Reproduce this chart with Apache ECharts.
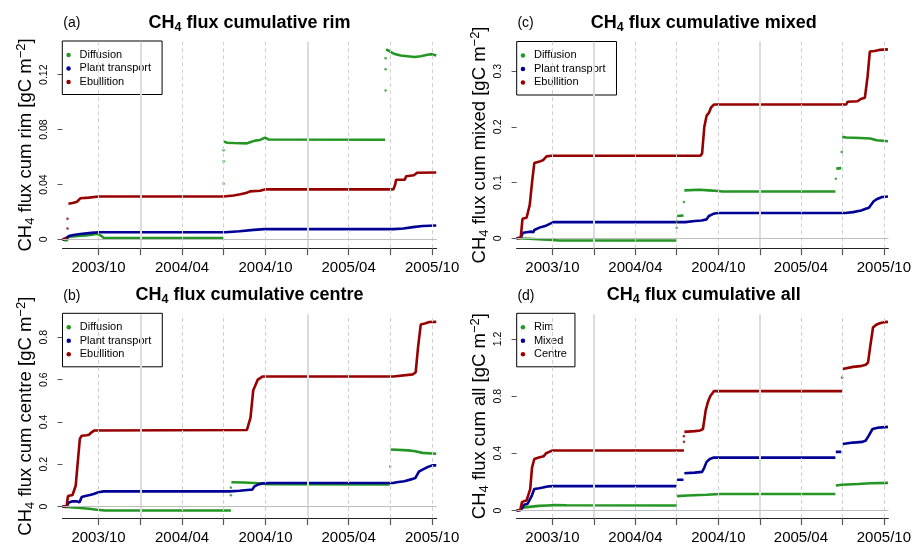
<!DOCTYPE html>
<html>
<head>
<meta charset="utf-8">
<script src="https://cdn.jsdelivr.net/npm/echarts@6/dist/echarts.min.js"></script>
<style>
html, body { margin: 0; padding: 0; background: #fff; }
#main { width: 914px; height: 545px; }
</style>
</head>
<body>
<div id="main"></div>
<script>
// ticks and labels on the time axis
var quarterTicks = ['2003-10-01', '2004-01-01', '2004-04-01', '2004-07-01', '2004-10-01',
                    '2005-01-01', '2005-04-01', '2005-07-01', '2005-10-01'];
var labelTicks = ['2003-10-01', '2004-04-01', '2004-10-01', '2005-04-01', '2005-10-01'];
var yearLines = ['2004-01-01', '2005-01-01'];
var xStart = '2003-07-14', xEnd = '2005-10-11';

var rimTicks = [0, 0.04, 0.08, 0.12];
var centreTicks = [0, 0.2, 0.4, 0.6, 0.8];
var mixedTicks = [0, 0.1, 0.2, 0.3];
var allTicks = [0, 0.4, 0.8, 1.2];

// (a) rim -- each series is a list of segments, dots are the loose points at the jumps
var rimDiffusion = [
  [['2003-07-14', 0], ['2003-07-23', -0.0008], ['2003-07-28', 0.002], ['2003-08-07', 0.0022], ['2003-08-22', 0.0028],
   ['2003-09-06', 0.003], ['2003-09-17', 0.0035], ['2003-09-28', 0.0042], ['2003-10-05', 0.003], ['2003-10-12', 0.0012],
   ['2004-07-01', 0.001]],
  [['2004-07-02', 0.0714], ['2004-07-08', 0.0705], ['2004-07-23', 0.0703], ['2004-08-21', 0.070], ['2004-08-28', 0.0708],
   ['2004-09-08', 0.072], ['2004-09-19', 0.0725], ['2004-09-30', 0.0742], ['2004-10-08', 0.0728], ['2005-06-20', 0.0726]],
  [['2005-06-22', 0.1385], ['2005-06-28', 0.1375], ['2005-07-09', 0.1353], ['2005-07-24', 0.134], ['2005-08-23', 0.1329],
   ['2005-09-06', 0.1335], ['2005-09-21', 0.1345], ['2005-09-30', 0.135], ['2005-10-10', 0.134]]
];
var rimDiffusionDots = [['2004-07-01', 0.0405], ['2004-07-01', 0.057], ['2004-07-01', 0.065],
                        ['2005-06-21', 0.1085], ['2005-06-21', 0.124], ['2005-06-21', 0.132]];
var rimPlant = [
  [['2003-07-14', 0], ['2003-07-20', 0.0005], ['2003-07-28', 0.0025], ['2003-08-07', 0.0033], ['2003-08-22', 0.004],
   ['2003-09-15', 0.0048], ['2003-10-01', 0.0053], ['2004-07-05', 0.0053], ['2004-08-05', 0.006], ['2004-09-05', 0.007],
   ['2004-09-28', 0.0075], ['2005-07-08', 0.0075], ['2005-07-30', 0.008], ['2005-08-20', 0.009], ['2005-09-10', 0.0098],
   ['2005-10-10', 0.0102]]
];
var rimEbullition = [
  [['2003-07-14', 0], ['2003-07-23', 0.001]],
  [['2003-07-27', 0.026], ['2003-08-05', 0.0265], ['2003-08-15', 0.0275], ['2003-08-22', 0.030], ['2003-09-10', 0.0305],
   ['2003-10-01', 0.0313], ['2004-07-01', 0.0313], ['2004-07-23', 0.032], ['2004-08-07', 0.033], ['2004-08-21', 0.034],
   ['2004-08-28', 0.035], ['2004-09-19', 0.0355], ['2004-10-01', 0.0365], ['2005-07-08', 0.0365], ['2005-07-12', 0.040],
   ['2005-07-14', 0.0435], ['2005-08-02', 0.0435], ['2005-08-05', 0.046], ['2005-08-22', 0.0468], ['2005-08-29', 0.0486],
   ['2005-10-10', 0.0488]]
];
var rimEbullitionDots = [['2003-07-25', 0.008], ['2003-07-25', 0.015]];

// (c) mixed
var mixedDiffusion = [
  [['2003-07-14', 0], ['2003-08-10', -0.0008], ['2003-09-10', -0.002], ['2003-10-01', -0.003], ['2003-10-15', -0.004],
   ['2004-07-01', -0.004]],
  [['2004-07-02', 0.040], ['2004-07-16', 0.041]],
  [['2004-07-18', 0.086], ['2004-08-20', 0.087], ['2004-09-10', 0.086], ['2004-10-01', 0.085], ['2004-10-10', 0.084],
   ['2005-06-16', 0.084]],
  [['2005-06-18', 0.125], ['2005-06-29', 0.126]],
  [['2005-07-01', 0.182], ['2005-07-10', 0.181], ['2005-08-10', 0.180], ['2005-09-01', 0.179], ['2005-09-15', 0.176],
   ['2005-10-10', 0.174]]
];
var mixedDiffusionDots = [['2004-07-01', 0.019], ['2004-07-01', 0.03], ['2004-07-17', 0.065],
                          ['2005-06-17', 0.107], ['2005-06-30', 0.155]];
var mixedPlant = [
  [['2003-07-14', 0], ['2003-07-23', 0.001], ['2003-07-28', 0.01], ['2003-08-05', 0.011], ['2003-08-15', 0.012],
   ['2003-08-20', 0.011], ['2003-08-22', 0.015], ['2003-08-26', 0.018], ['2003-09-05', 0.02], ['2003-09-15', 0.022],
   ['2003-09-25', 0.026], ['2003-10-03', 0.029], ['2004-07-20', 0.029], ['2004-08-10', 0.031], ['2004-08-25', 0.032],
   ['2004-09-05', 0.034], ['2004-09-10', 0.040], ['2004-09-20', 0.044], ['2004-09-30', 0.0455], ['2005-07-08', 0.0455],
   ['2005-07-25', 0.047], ['2005-08-12', 0.05], ['2005-08-22', 0.053], ['2005-08-29', 0.055], ['2005-09-02', 0.054],
   ['2005-09-08', 0.066], ['2005-09-15', 0.07], ['2005-09-27', 0.074], ['2005-10-10', 0.075]]
];
var mixedEbullition = [
  [['2003-07-14', 0], ['2003-07-23', 0.001], ['2003-07-27', 0.035], ['2003-08-05', 0.037], ['2003-08-09', 0.04],
   ['2003-08-12', 0.06], ['2003-08-17', 0.10], ['2003-08-22', 0.135], ['2003-09-03', 0.138], ['2003-09-10', 0.14],
   ['2003-09-18', 0.147], ['2003-09-29', 0.148], ['2004-08-22', 0.148], ['2004-08-26', 0.152], ['2004-08-31', 0.20],
   ['2004-09-05', 0.22], ['2004-09-10', 0.225], ['2004-09-15', 0.235], ['2004-09-21', 0.24], ['2005-07-10', 0.24],
   ['2005-07-13', 0.245], ['2005-08-04', 0.246], ['2005-08-11', 0.25], ['2005-08-20', 0.252], ['2005-08-26', 0.29],
   ['2005-08-31', 0.335], ['2005-09-10', 0.336], ['2005-09-21', 0.338], ['2005-10-10', 0.339]]
];

// (b) centre
var centreDiffusion = [
  [['2003-07-14', 0], ['2003-08-15', -0.005], ['2003-09-10', -0.01], ['2003-09-28', -0.015], ['2003-10-15', -0.018],
   ['2004-07-17', -0.018]],
  [['2004-07-18', 0.115], ['2004-08-15', 0.114], ['2004-09-05', 0.112], ['2004-09-20', 0.11], ['2004-10-05', 0.106],
   ['2005-06-30', 0.105]],
  [['2005-07-02', 0.27], ['2005-08-10', 0.266], ['2005-08-25', 0.262], ['2005-09-10', 0.254], ['2005-10-10', 0.25]]
];
var centreDiffusionDots = [['2004-07-17', 0.054], ['2004-07-17', 0.09], ['2005-07-01', 0.19]];
var centrePlant = [
  [['2003-07-14', 0], ['2003-07-23', 0.002], ['2003-07-28', 0.02], ['2003-08-05', 0.025], ['2003-08-15', 0.025],
   ['2003-08-20', 0.02], ['2003-08-25', 0.045], ['2003-09-02', 0.05], ['2003-09-12', 0.055], ['2003-09-20', 0.06],
   ['2003-10-01', 0.068], ['2003-10-12', 0.072], ['2004-07-15', 0.072], ['2004-08-05', 0.075], ['2004-08-28', 0.08],
   ['2004-09-02', 0.08], ['2004-09-06', 0.095], ['2004-09-15', 0.105], ['2004-09-25', 0.11], ['2004-10-10', 0.112],
   ['2005-07-08', 0.112], ['2005-07-15', 0.115], ['2005-08-01', 0.12], ['2005-08-18', 0.13], ['2005-08-25', 0.135],
   ['2005-08-29', 0.13], ['2005-09-02', 0.165], ['2005-09-10', 0.175], ['2005-09-22', 0.188], ['2005-10-01', 0.195],
   ['2005-10-10', 0.195]]
];
var centreEbullition = [
  [['2003-07-14', 0], ['2003-07-23', 0.002], ['2003-07-26', 0.05], ['2003-08-05', 0.055], ['2003-08-08', 0.06],
   ['2003-08-12', 0.10], ['2003-08-16', 0.20], ['2003-08-21', 0.32], ['2003-08-25', 0.335], ['2003-09-05', 0.337],
   ['2003-09-10', 0.34], ['2003-09-15', 0.35], ['2003-09-22', 0.36], ['2004-08-21', 0.362], ['2004-08-25', 0.366],
   ['2004-08-29', 0.42], ['2004-09-04', 0.55], ['2004-09-08', 0.57], ['2004-09-14', 0.60], ['2004-09-25', 0.615],
   ['2005-07-08', 0.615], ['2005-07-12', 0.62], ['2005-08-20', 0.625], ['2005-08-26', 0.635], ['2005-08-31', 0.75],
   ['2005-09-06', 0.86], ['2005-09-15', 0.865], ['2005-09-25', 0.872], ['2005-10-10', 0.873]]
];

// (d) all
var allRim = [
  [['2003-07-14', 0], ['2003-07-22', 0.003], ['2003-07-27', 0.02], ['2003-07-31', 0.03], ['2003-09-01', 0.032],
   ['2003-09-20', 0.035], ['2003-10-05', 0.037], ['2003-11-01', 0.036], ['2004-07-01', 0.035]],
  [['2004-07-02', 0.10], ['2004-07-25', 0.105], ['2004-09-05', 0.11], ['2004-10-05', 0.115], ['2005-06-16', 0.115]],
  [['2005-06-17', 0.175], ['2005-06-30', 0.18], ['2005-08-05', 0.185], ['2005-09-01', 0.19], ['2005-10-10', 0.193]]
];
var allMixed = [
  [['2003-07-14', 0], ['2003-07-22', 0.003], ['2003-07-27', 0.02], ['2003-07-30', 0.04], ['2003-08-07', 0.045],
   ['2003-08-11', 0.055], ['2003-08-16', 0.10], ['2003-08-22', 0.15], ['2003-09-02', 0.155], ['2003-09-10', 0.16],
   ['2003-09-20', 0.168], ['2003-10-01', 0.17], ['2004-07-01', 0.17]],
  [['2004-07-02', 0.215], ['2004-07-16', 0.215]],
  [['2004-07-18', 0.26], ['2004-08-10', 0.265], ['2004-08-26', 0.27], ['2004-08-31', 0.30], ['2004-09-05', 0.34],
   ['2004-09-12', 0.36], ['2004-09-21', 0.37], ['2005-06-16', 0.37]],
  [['2005-06-17', 0.41], ['2005-06-29', 0.41]],
  [['2005-07-02', 0.465], ['2005-07-25', 0.475], ['2005-08-15', 0.48], ['2005-08-22', 0.49], ['2005-08-28', 0.52],
   ['2005-09-06', 0.57], ['2005-09-20', 0.58], ['2005-10-10', 0.585]]
];
var allCentre = [
  [['2003-07-14', 0], ['2003-07-22', 0.003], ['2003-07-26', 0.06], ['2003-08-05', 0.07], ['2003-08-09', 0.08],
   ['2003-08-13', 0.15], ['2003-08-17', 0.30], ['2003-08-22', 0.36], ['2003-09-01', 0.37], ['2003-09-12', 0.38],
   ['2003-09-17', 0.40], ['2003-09-24', 0.41], ['2003-10-01', 0.42], ['2004-07-17', 0.42]],
  [['2004-07-18', 0.55], ['2004-08-10', 0.555], ['2004-08-22', 0.56], ['2004-08-28', 0.57], ['2004-09-03', 0.70],
   ['2004-09-08', 0.76], ['2004-09-13', 0.80], ['2004-09-21', 0.835], ['2005-07-01', 0.835]],
  [['2005-07-02', 0.99], ['2005-07-05', 1.0], ['2005-07-25', 1.005], ['2005-08-10', 1.01], ['2005-08-22', 1.02],
   ['2005-08-27', 1.035], ['2005-09-01', 1.15], ['2005-09-07', 1.28], ['2005-09-14', 1.30], ['2005-09-22', 1.31],
   ['2005-10-01', 1.318], ['2005-10-10', 1.32]]
];
var allCentreDots = [['2004-07-17', 0.48], ['2004-07-17', 0.52], ['2005-07-01', 0.93]];

var GREEN = '#249624', BLUE = '#000096', RED = '#960000';
var FONT = 'Liberation Sans';

function day(s) {
  var p = s.split('-');
  return Date.UTC(+p[0], +p[1] - 1, +p[2]);
}
function ym(v) {
  var d = new Date(v);
  var m = d.getUTCMonth() + 1;
  return d.getUTCFullYear() + '/' + (m < 10 ? '0' + m : m);
}

var panels = [
  { tag: '(a)', what: 'rim', grid: { left: 62.5, top: 41.7, width: 374.2, height: 206.5 },
    legend: { left: 62.3, top: 41, padRight: 11 }, yTicks: rimTicks,
    names: ['Diffusion', 'Plant transport', 'Ebullition'],
    lines: [rimDiffusion, rimPlant, rimEbullition], dots: [rimDiffusionDots, [], rimEbullitionDots] },
  { tag: '(c)', what: 'mixed', grid: { left: 516.6, top: 41.7, width: 374.2, height: 206.5 },
    legend: { left: 516.7, top: 41.5, padRight: 11 }, yTicks: mixedTicks,
    names: ['Diffusion', 'Plant transport', 'Ebullition'],
    lines: [mixedDiffusion, mixedPlant, mixedEbullition], dots: [mixedDiffusionDots, [], []] },
  { tag: '(b)', what: 'centre', grid: { left: 62.5, top: 314.3, width: 374.2, height: 206.7 },
    legend: { left: 62.5, top: 313.3, padRight: 11 }, yTicks: centreTicks,
    names: ['Diffusion', 'Plant transport', 'Ebullition'],
    lines: [centreDiffusion, centrePlant, centreEbullition], dots: [centreDiffusionDots, [], []] },
  { tag: '(d)', what: 'all', grid: { left: 516.6, top: 314.3, width: 374.2, height: 206.7 },
    legend: { left: 516.7, top: 313.3, padRight: 8 }, yTicks: allTicks,
    names: ['Rim', 'Mixed', 'Centre'],
    lines: [allRim, allMixed, allCentre], dots: [[], [], allCentreDots] }
];
var colors = [GREEN, BLUE, RED];

var grids = [], xAxes = [], yAxes = [], series = [], legends = [], graphics = [];

panels.forEach(function (p, i) {
  // y range like R: data range padded by 4%
  var lo = Infinity, hi = -Infinity;
  p.lines.concat(p.dots).forEach(function (segs) {
    (Array.isArray(segs[0] && segs[0][0]) ? segs : [segs]).forEach(function (seg) {
      seg.forEach(function (pt) { lo = Math.min(lo, pt[1]); hi = Math.max(hi, pt[1]); });
    });
  });
  var pad = (hi - lo) * 0.04;

  grids.push(p.grid);
  xAxes.push({
    type: 'value', gridIndex: i, min: day(xStart), max: day(xEnd),
    axisLine: { show: true, onZero: false, lineStyle: { color: '#222', width: 1 } },
    axisTick: { show: true, length: 7, lineStyle: { color: '#555', width: 1.2 },
                customValues: quarterTicks.map(day) },
    axisLabel: { customValues: labelTicks.map(day), formatter: ym, fontSize: 15,
                 fontFamily: FONT, color: '#000', margin: 12 },
    splitLine: { show: false }
  });
  yAxes.push({
    type: 'value', gridIndex: i, min: lo - pad, max: hi + pad,
    axisLine: { show: false },
    axisTick: { show: true, length: 5, lineStyle: { color: '#555' }, customValues: p.yTicks },
    axisLabel: { customValues: p.yTicks, rotate: 90, fontSize: 10.5, fontFamily: FONT,
                 color: '#000', margin: 12.5 },
    splitLine: { show: false },
    name: '{m|CH}{s|4}{m| flux cum ' + p.what + ' [gC m}{p|\u22122}{m|]}',
    nameLocation: 'middle', nameRotate: 90, nameGap: 26,
    nameTextStyle: {
      rich: {
        m: { fontSize: 18.5, fontFamily: FONT, color: '#000', lineHeight: 22 },
        s: { fontSize: 13, fontFamily: FONT, color: '#000', lineHeight: 13.5, verticalAlign: 'bottom' },
        p: { fontSize: 13, fontFamily: FONT, color: '#000', lineHeight: 12, verticalAlign: 'top' }
      }
    }
  });

  // grid lines: dashed at quarters, solid at year starts, grey zero line
  var marks = quarterTicks.filter(function (q) { return yearLines.indexOf(q) < 0; }).map(function (q) {
    return { xAxis: day(q), lineStyle: { color: '#d0d0d0', type: [4, 3], width: 1 } };
  });
  yearLines.forEach(function (q) {
    marks.push({ xAxis: day(q), lineStyle: { color: '#dcdcdc', type: 'solid', width: 2 } });
  });
  marks.push({ yAxis: 0, lineStyle: { color: '#bdbdbd', type: 'solid', width: 1 } });
  series.push({
    type: 'line', xAxisIndex: i, yAxisIndex: i, data: [], z: 1, silent: true,
    markLine: { silent: true, symbol: ['none', 'none'], label: { show: false }, data: marks }
  });

  p.lines.forEach(function (segs, k) {
    var data = [];
    segs.forEach(function (seg, j) {
      if (j > 0) data.push([day(seg[0][0]), '-']);
      seg.forEach(function (pt) { data.push([day(pt[0]), pt[1]]); });
    });
    series.push({
      name: p.names[k], type: 'line', xAxisIndex: i, yAxisIndex: i, data: data, z: 3,
      showSymbol: false, symbol: 'none', connectNulls: false,
      lineStyle: { color: colors[k], width: 2.6 }, itemStyle: { color: colors[k] }
    });
    if (p.dots[k].length) {
      series.push({
        name: p.names[k] + ' (jump)', type: 'scatter', xAxisIndex: i, yAxisIndex: i, z: 3,
        symbolSize: 2.6, itemStyle: { color: colors[k] },
        data: p.dots[k].map(function (pt) { return [day(pt[0]), pt[1]]; })
      });
    }
  });

  legends.push({
    data: p.names, orient: 'vertical', left: p.legend.left, top: p.legend.top,
    icon: 'circle', itemWidth: 12, itemHeight: 4.5, itemGap: 0,
    padding: [7.2, p.legend.padRight, 5.8, 4], borderColor: '#000', borderWidth: 1, backgroundColor: '#fff',
    itemStyle: { borderWidth: 0 },
    textStyle: { fontSize: 11, fontFamily: FONT, color: '#000', lineHeight: 13.5 }
  });

  var cx = p.grid.left + p.grid.width / 2;
  var ty = p.grid.top - 19;
  graphics.push({
    type: 'text', x: cx, y: ty,
    style: {
      text: '{m|CH}{s|4}{m| flux cumulative ' + p.what + '}',
      align: 'center', verticalAlign: 'middle',
      rich: {
        m: { fontSize: 18, fontWeight: 'bold', fontFamily: FONT, fill: '#000', lineHeight: 22 },
        s: { fontSize: 12.5, fontWeight: 'bold', fontFamily: FONT, fill: '#000', lineHeight: 13.6, verticalAlign: 'bottom' }
      }
    }
  });
  graphics.push({
    type: 'text', x: p.grid.left + 0.8, y: ty + 0.8,
    style: { text: p.tag, fontSize: 14, fontFamily: FONT, fill: '#000', align: 'left', verticalAlign: 'middle' }
  });
});

var chart = echarts.init(document.getElementById('main'));
chart.setOption({
  animation: false,
  backgroundColor: '#fff',
  textStyle: { fontFamily: FONT },
  grid: grids,
  xAxis: xAxes,
  yAxis: yAxes,
  legend: legends,
  graphic: graphics,
  series: series
});
</script>
</body>
</html>
